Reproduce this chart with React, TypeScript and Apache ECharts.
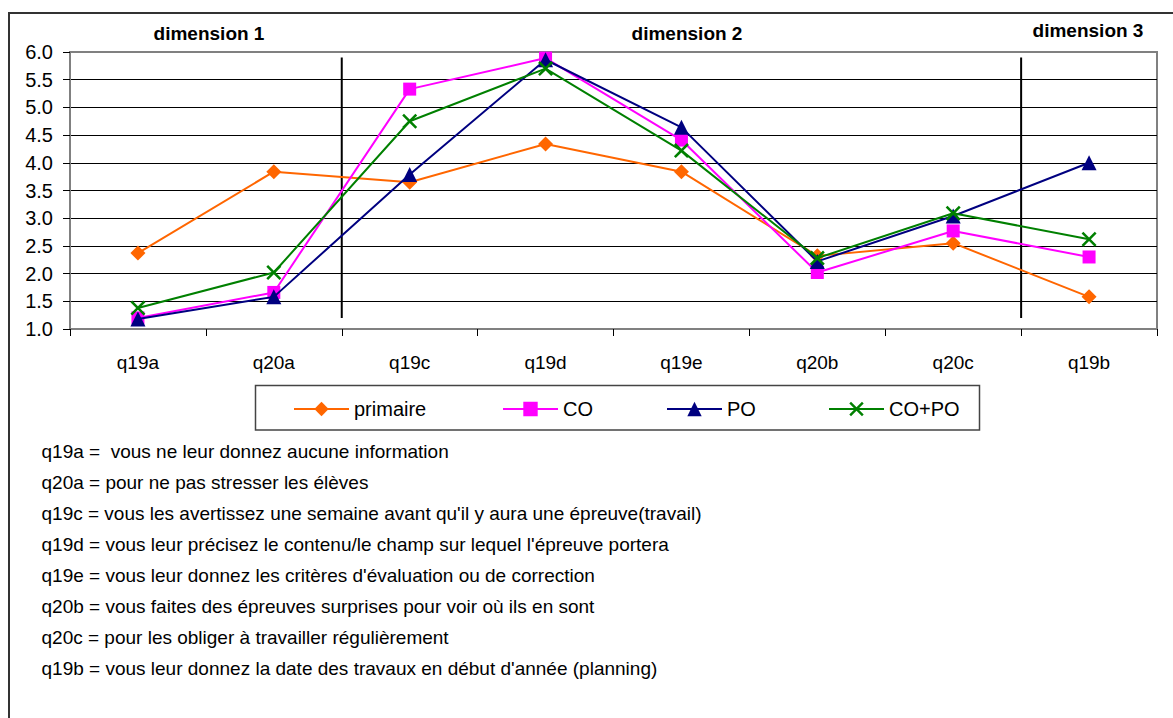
import React, { useEffect, useRef } from "react";
import * as echarts from "echarts";

const categories = ["q19a", "q20a", "q19c", "q19d", "q19e", "q20b", "q20c", "q19b"];
const seriesNames = ["primaire", "CO", "PO", "CO+PO"];
const primaire = [2.37, 3.84, 3.65, 4.34, 3.84, 2.32, 2.55, 1.58];
const co = [1.2, 1.66, 5.33, 5.89, 4.41, 2.02, 2.77, 2.3];
const po = [1.18, 1.58, 3.79, 5.86, 4.64, 2.22, 3.04, 4.0];
const coPo = [1.38, 2.02, 4.75, 5.7, 4.22, 2.28, 3.09, 2.62];
const yMin = 1;
const yMax = 6;
const yInterval = 0.5;
// category boundaries (in category units) where the dimension separators are drawn
const separatorPositions = [2, 7];
const separatorRange = [1.2, 5.9];
const dimensionLabels = ["dimension 1", "dimension 2", "dimension 3"];
const descriptions = [
  "q19a =  vous ne leur donnez aucune information",
  "q20a = pour ne pas stresser les élèves",
  "q19c = vous les avertissez une semaine avant qu'il y aura une épreuve(travail)",
  "q19d = vous leur précisez le contenu/le champ sur lequel l'épreuve portera",
  "q19e = vous leur donnez les critères d'évaluation ou de correction",
  "q20b = vous faites des épreuves surprises pour voir où ils en sont",
  "q20c = pour les obliger à travailler régulièrement",
  "q19b = vous leur donnez la date des travaux en début d'année (planning)",
];

const FONT = "'Liberation Sans', Arial, sans-serif";
const colors = ["#FF6600", "#FF00FF", "#000080", "#008000"];
const crossPath =
  "path://M0,1.2L1.2,0L5,3.8L8.8,0L10,1.2L6.2,5L10,8.8L8.8,10L5,6.2L1.2,10L0,8.8L3.8,5Z";
const symbols = ["diamond", "rect", "triangle", crossPath];
const symbolSizes = [15, 13, 15, 15];

export default function App() {
  const ref = useRef<HTMLDivElement>(null);

  useEffect(() => {
    document.body.style.margin = "0";
    if (!ref.current) return;
    const chart = echarts.init(ref.current, null, { renderer: "svg" });
    const values = [primaire, co, po, coPo];

    const mainSeries = seriesNames.map((name, i) => ({
      name,
      type: "line",
      data: values[i],
      symbol: symbols[i],
      symbolSize: symbolSizes[i],
      symbolKeepAspect: true,
      showAllSymbol: true,
      lineStyle: { color: colors[i], width: 2 },
      itemStyle: { color: colors[i] },
      emphasis: { disabled: true },
      z: 3 + i,
    }));

    const sepSeries = separatorPositions.map((p) => ({
      type: "line",
      xAxisIndex: 1,
      data: [
        [p, separatorRange[1]],
        [p, separatorRange[0]],
      ],
      symbol: "none",
      lineStyle: { color: "#000", width: 2 },
      silent: true,
      z: 2,
    }));

    const legendLefts = [293, 502, 666, 828];
    const legends = seriesNames.map((name, i) => ({
      data: [name],
      left: legendLefts[i],
      top: 399,
      padding: 0,
      itemWidth: 55,
      itemHeight: 18,
      textStyle: { fontSize: 20, color: "#000", fontFamily: FONT },
      selectedMode: false,
    }));

    const dimX = [209, 687, 1088];
    const dimY = [33, 33, 30];

    chart.setOption({
      animation: false,
      backgroundColor: "#fff",
      grid: {
        left: 70,
        top: 52,
        right: 16,
        bottom: 389,
        show: true,
        borderColor: "#808080",
        borderWidth: 2,
        backgroundColor: "transparent",
      },
      xAxis: [
        {
          type: "category",
          data: categories,
          boundaryGap: true,
          axisLine: { lineStyle: { color: "#808080", width: 2 } },
          axisTick: { show: true, alignWithLabel: false, length: 7, lineStyle: { color: "#000" } },
          axisLabel: { fontSize: 19, color: "#000", fontFamily: FONT, margin: 24 },
          splitLine: { show: false },
        },
        {
          type: "value",
          min: 0,
          max: categories.length,
          show: false,
        },
      ],
      yAxis: {
        type: "value",
        min: yMin,
        max: yMax,
        interval: yInterval,
        axisLine: { show: true, lineStyle: { color: "#808080", width: 2 } },
        axisTick: { show: true, length: 7, lineStyle: { color: "#000" } },
        axisLabel: {
          fontSize: 20,
          color: "#000",
          fontFamily: FONT,
          margin: 17,
          formatter: (v: number) => v.toFixed(1),
        },
        splitLine: { show: true, showMaxLine: false, lineStyle: { color: "#000", width: 1 } },
      },
      legend: legends,
      series: [...sepSeries, ...mainSeries],
      graphic: [
        {
          type: "rect",
          shape: { x: 9, y: 13, width: 1300, height: 900 },
          style: { fill: "none", stroke: "#333", lineWidth: 2 },
          silent: true,
          z: 0,
        },
        {
          type: "rect",
          shape: { x: 255.5, y: 385.5, width: 724, height: 44.5 },
          style: { fill: "none", stroke: "#444", lineWidth: 1.5 },
          silent: true,
        },
        ...dimensionLabels.map((t, i) => ({
          type: "text",
          x: dimX[i],
          y: dimY[i],
          style: {
            text: t,
            font: `bold 19px ${FONT}`,
            fill: "#000",
            textAlign: "center",
            textVerticalAlign: "middle",
          },
        })),
        ...descriptions.map((t, i) => ({
          type: "text",
          x: 41.5,
          y: 451 + 31 * i,
          style: {
            text: t,
            font: `19px ${FONT}`,
            fill: "#000",
            textAlign: "left",
            textVerticalAlign: "middle",
          },
        })),
      ],
    });

    return () => chart.dispose();
  }, []);

  return <div ref={ref} style={{ width: 1173, height: 718 }} />;
}
